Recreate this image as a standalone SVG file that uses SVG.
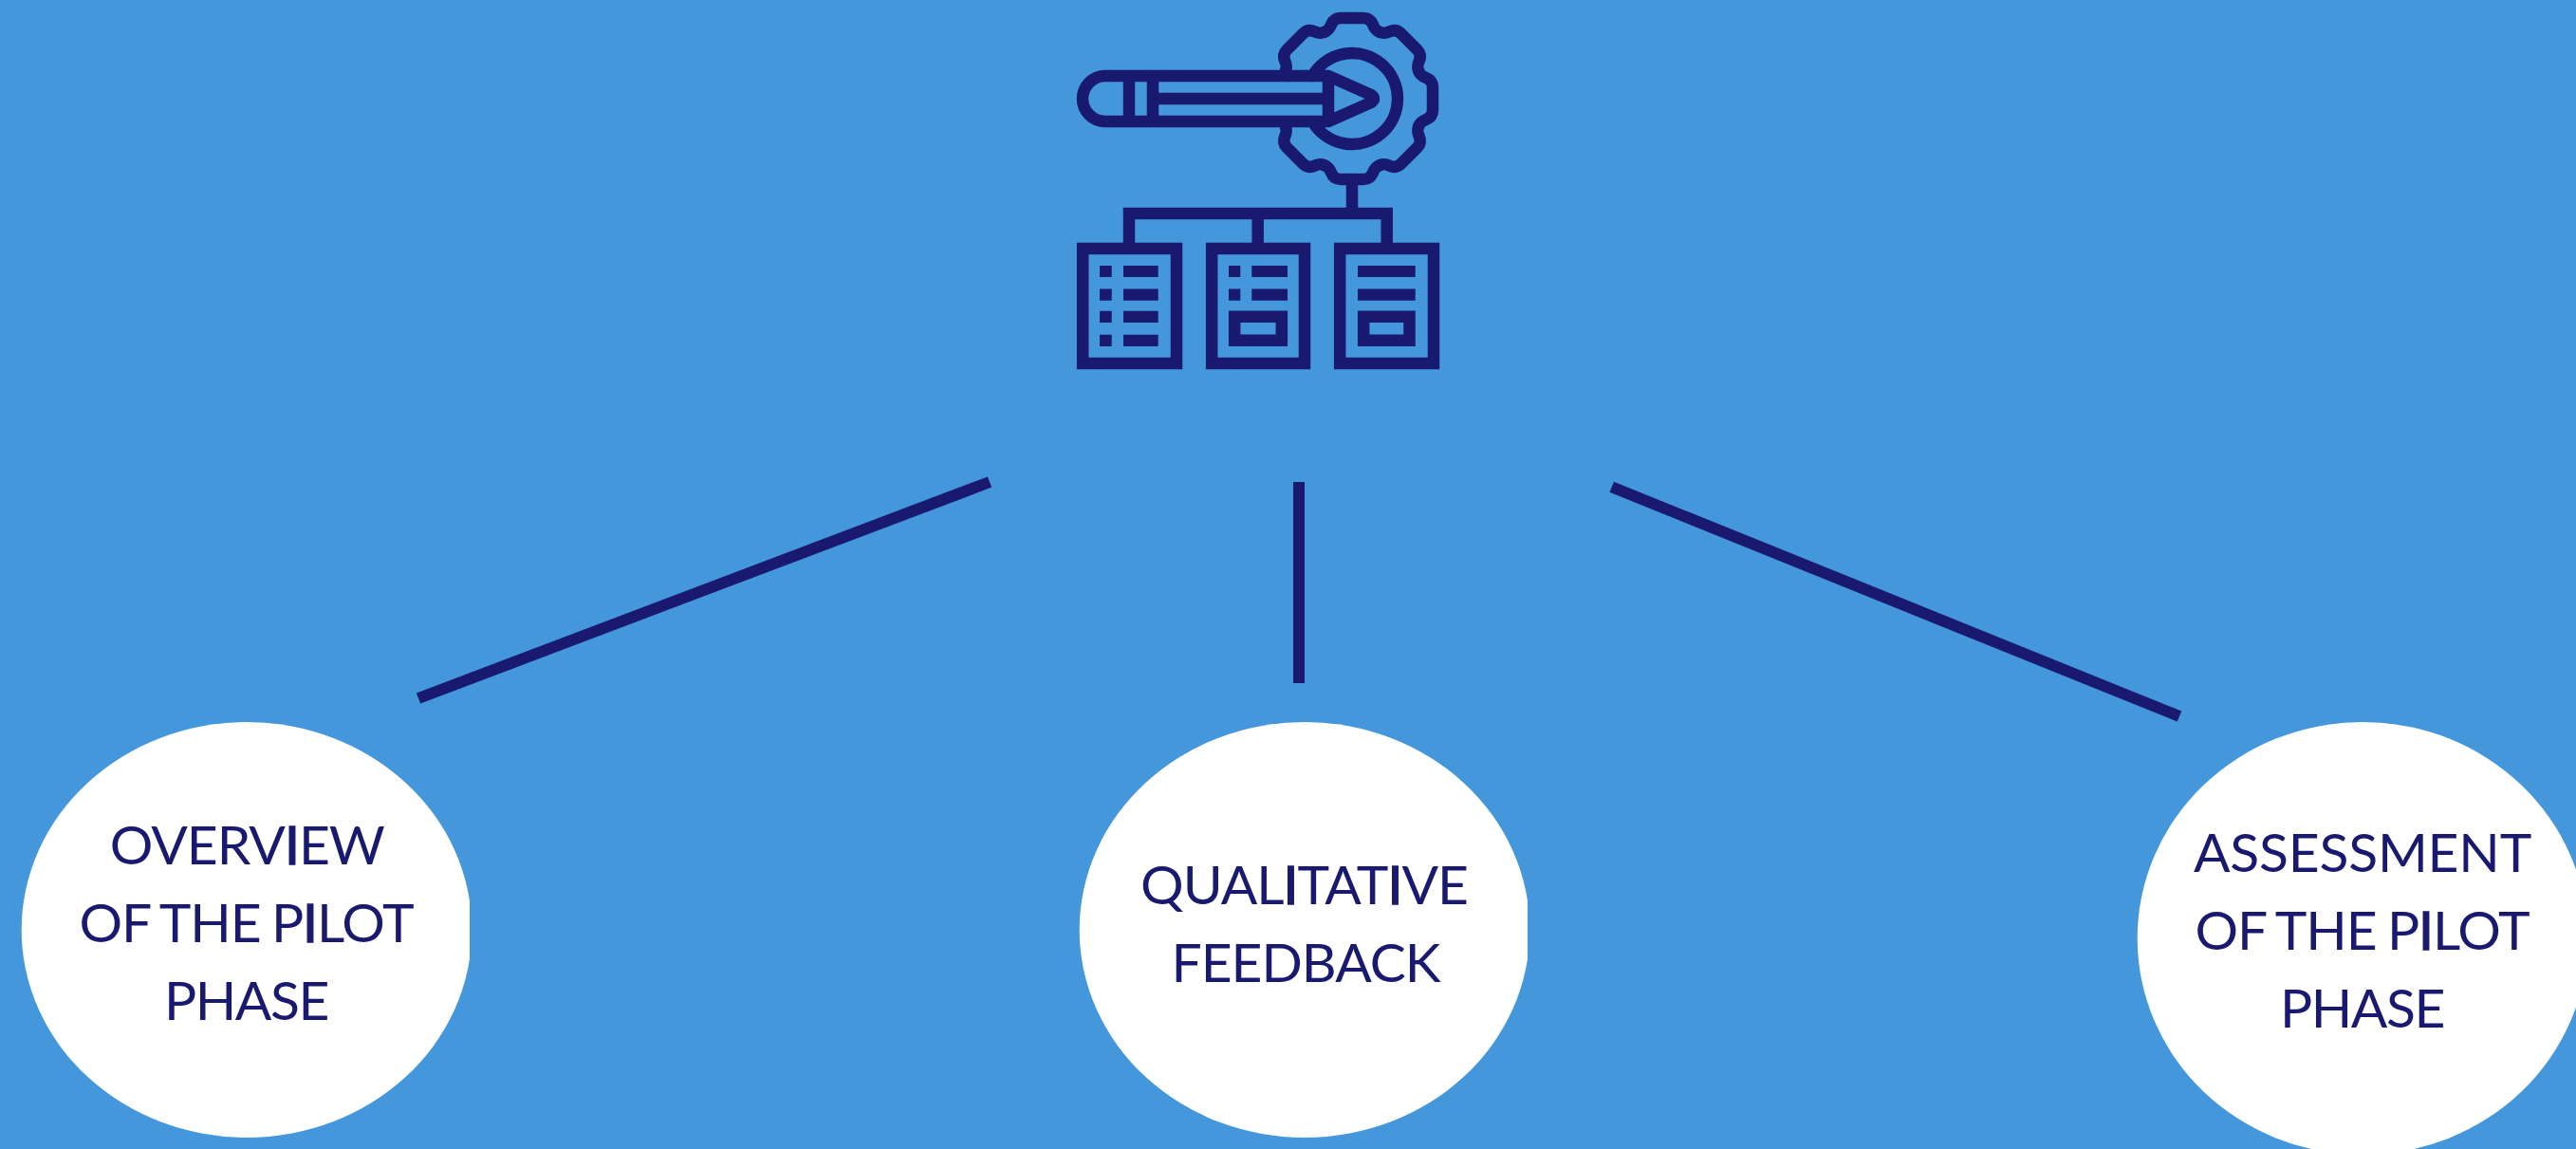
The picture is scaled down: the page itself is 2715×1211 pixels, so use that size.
<svg xmlns="http://www.w3.org/2000/svg" width="2715" height="1211" viewBox="0 0 2715 1211">
<style>
.ink{fill:none;stroke:#191970;stroke-width:12.5;stroke-linejoin:round;stroke-linecap:round}
.sq{fill:none;stroke:#191970;stroke-width:12.5;stroke-linejoin:miter}
.solid{fill:#191970}
.conn{stroke:#191970;stroke-width:12;fill:none}
.bub{fill:#fff}
text{font-family:"Lato","Liberation Sans",sans-serif;font-size:57px;font-weight:400;fill:#191970;text-anchor:middle}
.i{stroke:#191970;stroke-width:1.4}
.l1{letter-spacing:-1px}
.l2{letter-spacing:-1.1px;word-spacing:-2px}
.l3{letter-spacing:-1.4px}
.l4{letter-spacing:-.2px}
</style>
<defs>
<clipPath id="c1"><rect x="0" y="0" width="495" height="1211"/></clipPath>
<clipPath id="c2"><rect x="1100" y="0" width="510" height="1211"/></clipPath>
<path id="tooth" class="ink" d="M1395.9 33.8C1399.6 32.3 1401 31 1403 26C1405 21 1408 19 1413 19H1437C1442 19 1445 21 1447 26C1449 31 1450.4 32.3 1454.1 33.8"/>
</defs>
<rect width="2715" height="1211" fill="#4497DB"/>
<g id="icon">
<use href="#tooth" transform="rotate(-45 1425 104)"/>
<use href="#tooth"/>
<use href="#tooth" transform="rotate(45 1425 104)"/>
<use href="#tooth" transform="rotate(90 1425 104)"/>
<use href="#tooth" transform="rotate(135 1425 104)"/>
<use href="#tooth" transform="rotate(180 1425 104)"/>
<use href="#tooth" transform="rotate(225 1425 104)"/>
<path class="ink" d="M1354.8 74.9L1357 80M1354.8 133.1L1357 128"/>
<path class="ink" d="M1383.4 80A48 48 0 1 1 1383.4 128"/>
<path class="ink" d="M1400 80H1165A24 24 0 0 0 1165 128H1400ZM1400 80L1445 100Q1451 104 1445 108L1400 128"/>
<path class="sq" d="M1190 80V128M1215 80V128M1215 104H1400M1425 185V225M1190 256V225H1461.7V256M1325.7 225V256"/>
<path class="sq" d="M1141.2 262H1240V383H1141.2ZM1277.2 262H1375V383H1277.2ZM1412.2 262H1511V383H1412.2ZM1301.2 333.8H1350.8V358.8H1301.2ZM1437.2 333.8H1485.5V358.8H1437.2Z"/>
<path class="solid" d="M1159 280h12.7v12h-12.7zM1159 304.4h12.7v12.4h-12.7zM1159 327.7h12.7v12.4h-12.7zM1159 352.7h12.7v12.4h-12.7zM1184 280h36.7v12h-36.7zM1184 304.4h36.7v12.4h-36.7zM1184 327.7h36.7v12.4h-36.7zM1184 352.7h36.7v12.4h-36.7zM1295 280h12.3v12h-12.3zM1295 304.4h12.3v12.4h-12.3zM1319.3 280h37.7v12h-37.7zM1319.3 304.4h37.7v12.4h-37.7zM1431 280h60.7v12h-60.7zM1431 304.4h60.7v12.4h-60.7z"/>
</g>
<g id="connectors">
<line class="conn" x1="441" y1="736" x2="1043" y2="508"/>
<line class="conn" x1="1369" y1="508" x2="1369" y2="720"/>
<line class="conn" x1="1698.7" y1="513.3" x2="2297" y2="755"/>
</g>
<g id="node-overview">
<ellipse class="bub" cx="260" cy="980" rx="237.3" ry="219" clip-path="url(#c1)"/>
<text class="l1" x="260.3" y="911">OVERV<tspan class="i">I</tspan>EW</text>
<text class="l2" x="259.5" y="993">OF THE P<tspan class="i">I</tspan>LOT</text>
<text class="l3" x="259.5" y="1075">PHASE</text>
</g>
<g id="node-feedback">
<ellipse class="bub" cx="1375" cy="980" rx="237.3" ry="219" clip-path="url(#c2)"/>
<text class="l1" x="1374.5" y="953">QUAL<tspan class="i">I</tspan>TAT<tspan class="i">I</tspan>VE</text>
<text class="l1" x="1376" y="1035">FEEDBACK</text>
</g>
<g id="node-assessment">
<ellipse class="bub" cx="2490" cy="989" rx="237.3" ry="228"/>
<text class="l4" x="2490" y="919.3">ASSESSMENT</text>
<text class="l2" x="2489.5" y="1001">OF THE P<tspan class="i">I</tspan>LOT</text>
<text class="l3" x="2489.5" y="1082.7">PHASE</text>
</g>
</svg>
